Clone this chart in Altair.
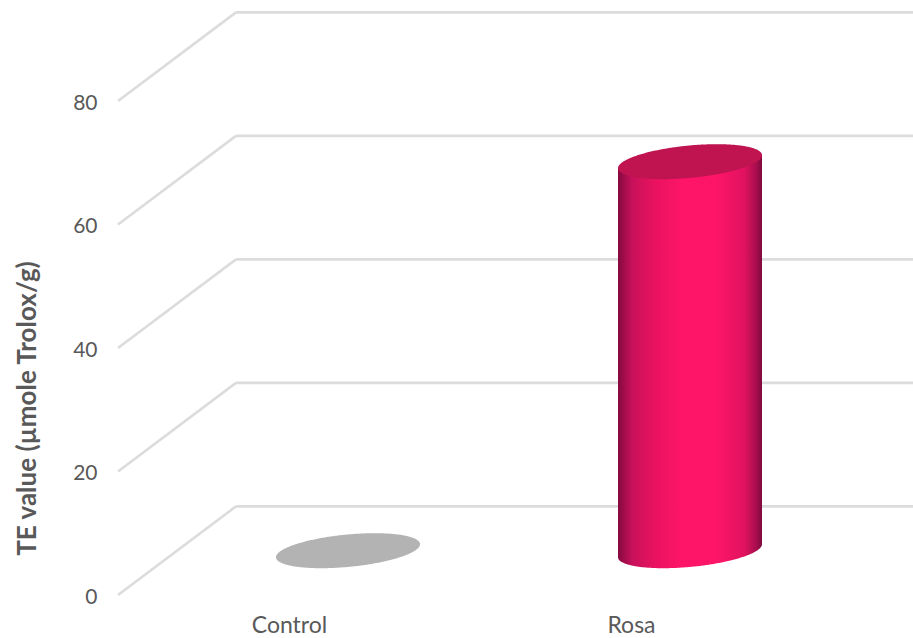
import json

import altair as alt
import numpy as np
import pandas as pd

# Chart values
categories = ["Control", "Rosa"]
te_values = [0, 63]
y_ticks = [0, 20, 40, 60, 80]
cap_colors = ["#b3b3b3", "#bf1450"]

# Geometry of the pseudo-3D floor and cylinders, in axis units
X_MAX = 795 / 342
Y_MAX = 595 / 6.175
DEPTH_X = 118 / 342
DEPTH_Y = 88.6 / 6.175
RADIUS_X = 72 / 342
RADIUS_Y = 16.25 / 6.175
TILT_Y = 6.5 / 6.175

TEXT = "#595959"
FONT = "Lato"

# Wall and side gridlines
side_lines = pd.DataFrame(
    {
        "x": 0.0,
        "x2": DEPTH_X,
        "y": [float(t) for t in y_ticks],
        "y2": [t + DEPTH_Y for t in y_ticks],
    }
)
back_lines = pd.DataFrame(
    {
        "x": DEPTH_X,
        "x2": X_MAX,
        "y": [t + DEPTH_Y for t in y_ticks],
    }
)

# Outline samples for the elliptical caps and the cylinder bodies
u = np.cos(np.linspace(np.pi, 0, 181))
half = RADIUS_Y * np.sqrt(np.clip(1 - u**2, 0, 1))


def outline(index, level):
    center = index + 0.5 + DEPTH_X / 2
    base = level + DEPTH_Y / 2 + TILT_Y * u
    return center + RADIUS_X * u, base


cap_frames = []
body_frames = []
for i, (name, value) in enumerate(zip(categories, te_values)):
    x, mid = outline(i, value)
    cap_frames.append(
        pd.DataFrame({"category": name, "x": x, "top": mid + half, "bottom": mid - half})
    )
    if value > 0:
        _, low = outline(i, 0)
        body_frames.append(
            pd.DataFrame({"category": name, "x": x, "top": mid, "bottom": low - half})
        )
caps = pd.concat(cap_frames)
bodies = pd.concat(body_frames)

x_scale = alt.Scale(domain=[0, X_MAX], nice=False, zero=False)
y_scale = alt.Scale(domain=[0, Y_MAX], nice=False, zero=False)

label_lookup = json.dumps(categories)

sides = (
    alt.Chart(side_lines)
    .mark_rule(color="#dcdcdc", strokeWidth=2.6)
    .encode(
        x=alt.X(
            "x:Q",
            scale=x_scale,
            axis=alt.Axis(
                values=[i + 0.5 for i in range(len(categories))],
                labelExpr=f"{label_lookup}[floor(datum.value)]",
                title=None,
                domain=False,
                ticks=False,
                grid=False,
                labelFont=FONT,
                labelFontSize=23,
                labelColor=TEXT,
                labelPadding=19,
            ),
        ),
        x2="x2:Q",
        y=alt.Y(
            "y:Q",
            scale=y_scale,
            axis=alt.Axis(
                values=y_ticks,
                title="TE value (µmole Trolox/g)",
                titleFont=FONT,
                titleFontSize=26,
                titleFontWeight="bold",
                titleColor=TEXT,
                titleAngle=270,
                titleX=-78,
                titleY=408,
                domain=False,
                ticks=False,
                grid=False,
                labelFont=FONT,
                labelFontSize=21,
                labelColor=TEXT,
                labelPadding=21,
                labelOffset=2,
            ),
        ),
        y2="y2:Q",
    )
)

backs = (
    alt.Chart(back_lines)
    .mark_rule(color="#dcdcdc", strokeWidth=2.6)
    .encode(
        x=alt.X("x:Q", scale=x_scale),
        x2="x2:Q",
        y=alt.Y("y:Q", scale=y_scale),
    )
)

body_fill = alt.LinearGradient(
    gradient="linear",
    x1=0,
    y1=0,
    x2=1,
    y2=0,
    stops=[
        alt.GradientStop(color="#85093f", offset=0),
        alt.GradientStop(color="#c8115a", offset=0.1),
        alt.GradientStop(color="#e8125f", offset=0.25),
        alt.GradientStop(color="#ff1568", offset=0.45),
        alt.GradientStop(color="#ff1568", offset=0.68),
        alt.GradientStop(color="#e0125f", offset=0.88),
        alt.GradientStop(color="#a80e4e", offset=0.96),
        alt.GradientStop(color="#7d0a3c", offset=1),
    ],
)

body_layer = (
    alt.Chart(bodies)
    .mark_area(fill=body_fill, interpolate="linear")
    .encode(
        x=alt.X("x:Q", scale=x_scale),
        y=alt.Y("top:Q", scale=y_scale),
        y2="bottom:Q",
        detail="category:N",
    )
)

cap_layer = (
    alt.Chart(caps)
    .mark_area(interpolate="linear")
    .encode(
        x=alt.X("x:Q", scale=x_scale),
        y=alt.Y("top:Q", scale=y_scale),
        y2="bottom:Q",
        color=alt.Color(
            "category:N",
            scale=alt.Scale(domain=categories, range=cap_colors),
            legend=None,
        ),
    )
)

chart = (
    alt.layer(sides, backs, body_layer, cap_layer)
    .properties(
        width=795,
        height=595,
        autosize=alt.AutoSizeParams(type="none"),
        padding={"left": 118, "top": 0, "right": 0, "bottom": 43},
        background="white",
    )
    .configure_view(stroke=None)
)

chart.save("out.html", embed_options={"renderer": "svg", "actions": False})
